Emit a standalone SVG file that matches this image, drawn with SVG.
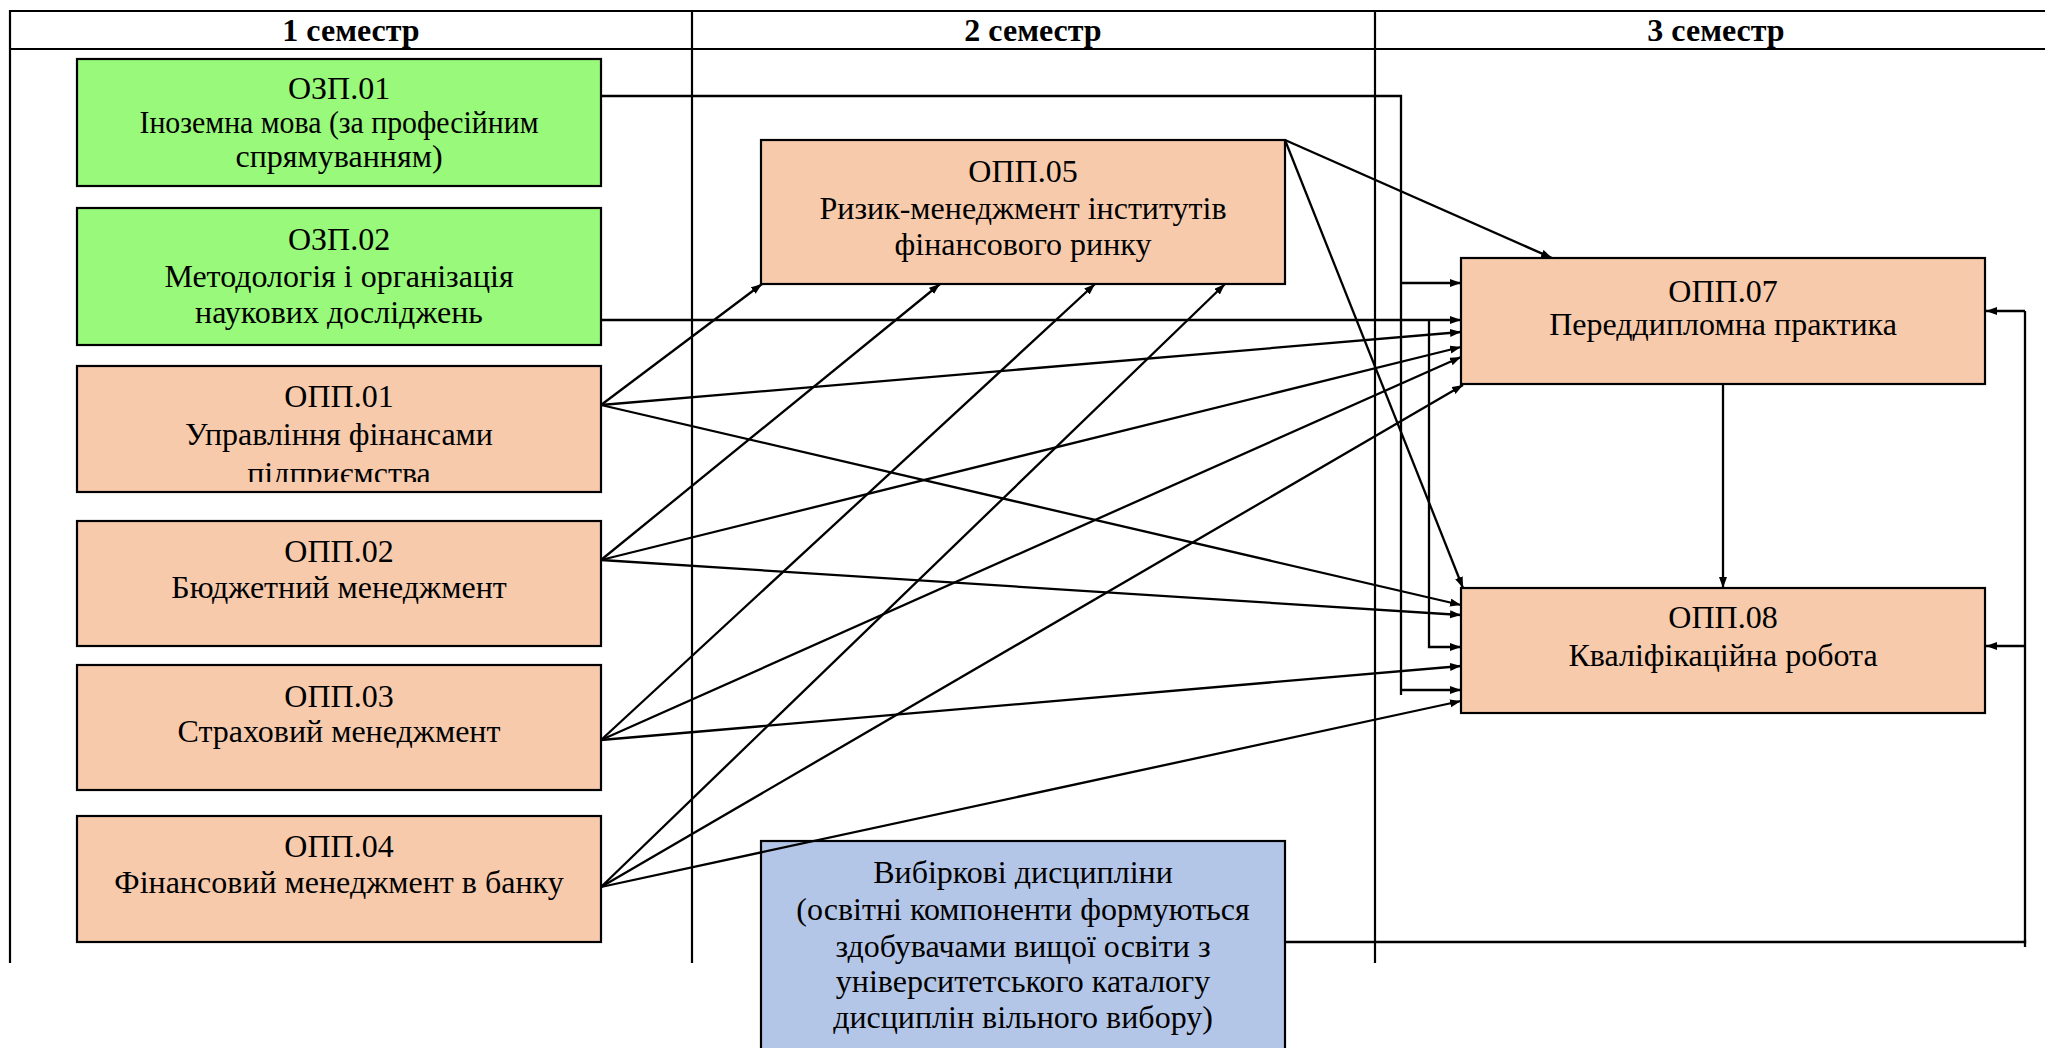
<svg xmlns="http://www.w3.org/2000/svg" width="2045" height="1048" viewBox="0 0 2045 1048">
<style>
.grid{stroke:#000;stroke-width:2.2;fill:none}
.hdr{font-family:"Liberation Serif","Times New Roman",serif;font-size:32px;font-weight:bold;text-anchor:middle;fill:#000}
.t{font-family:"Liberation Serif","Times New Roman",serif;font-size:32px;text-anchor:middle;fill:#000}
.box{stroke:#000;stroke-width:2.2}
.g{fill:#98F97A}
.p{fill:#F7CAAC}
.b{fill:#B4C6E7}
.c{stroke:#000;stroke-width:2.3;fill:none}
.a{marker-end:url(#arr)}
</style>
<defs>
<marker id="arr" markerUnits="userSpaceOnUse" markerWidth="12" markerHeight="10" refX="11" refY="4" orient="auto">
<path d="M0,0 L11,4 L0,8 z" fill="#000"/>
</marker>
<clipPath id="clip01"><rect x="77" y="366" width="524" height="116"/></clipPath>
</defs>
<rect width="2045" height="1048" fill="#fff"/>
<g id="table">
<line class="grid" x1="10" y1="11" x2="2045" y2="11"/>
<line class="grid" x1="10" y1="49" x2="2045" y2="49"/>
<line class="grid" x1="10" y1="10" x2="10" y2="963"/>
<line class="grid" x1="692" y1="10" x2="692" y2="963"/>
<line class="grid" x1="1375" y1="10" x2="1375" y2="963"/>
<text class="hdr" x="351" y="41">1 семестр</text>
<text class="hdr" x="1033" y="41">2 семестр</text>
<text class="hdr" x="1716" y="41">3 семестр</text>
</g>
<g id="ozp01">
<rect class="box g" x="77" y="59" width="524" height="127"/>
<text class="t" x="339" y="99">ОЗП.01</text>
<text class="t" x="339" y="133" textLength="399" lengthAdjust="spacingAndGlyphs">Іноземна мова (за професійним</text>
<text class="t" x="339" y="167">спрямуванням)</text>
</g>
<g id="ozp02">
<rect class="box g" x="77" y="208" width="524" height="137"/>
<text class="t" x="339" y="250">ОЗП.02</text>
<text class="t" x="339" y="287">Методологія і організація</text>
<text class="t" x="339" y="323">наукових досліджень</text>
</g>
<g id="opp01">
<rect class="box p" x="77" y="366" width="524" height="126"/>
<text class="t" x="339" y="407">ОПП.01</text>
<text class="t" x="339" y="445">Управління фінансами</text>
<text class="t" x="339" y="484" clip-path="url(#clip01)">підприємства</text>
</g>
<g id="opp02">
<rect class="box p" x="77" y="521" width="524" height="125"/>
<text class="t" x="339" y="562">ОПП.02</text>
<text class="t" x="339" y="598">Бюджетний менеджмент</text>
</g>
<g id="opp03">
<rect class="box p" x="77" y="665" width="524" height="125"/>
<text class="t" x="339" y="707">ОПП.03</text>
<text class="t" x="339" y="742">Страховий менеджмент</text>
</g>
<g id="opp04">
<rect class="box p" x="77" y="816" width="524" height="126"/>
<text class="t" x="339" y="857">ОПП.04</text>
<text class="t" x="339" y="893">Фінансовий менеджмент в банку</text>
</g>
<g id="opp05">
<rect class="box p" x="761" y="140" width="524" height="144"/>
<text class="t" x="1023" y="182">ОПП.05</text>
<text class="t" x="1023" y="219">Ризик-менеджмент інститутів</text>
<text class="t" x="1023" y="255">фінансового ринку</text>
</g>
<g id="opp07">
<rect class="box p" x="1461" y="258" width="524" height="126"/>
<text class="t" x="1723" y="302">ОПП.07</text>
<text class="t" x="1723" y="335">Переддипломна практика</text>
</g>
<g id="opp08">
<rect class="box p" x="1461" y="588" width="524" height="125"/>
<text class="t" x="1723" y="628">ОПП.08</text>
<text class="t" x="1723" y="666">Кваліфікаційна робота</text>
</g>
<g id="elective">
<rect class="box b" x="761" y="841" width="524" height="220"/>
<text class="t" x="1023" y="883">Вибіркові дисципліни</text>
<text class="t" x="1023" y="920">(освітні компоненти формуються</text>
<text class="t" x="1023" y="957">здобувачами вищої освіти з</text>
<text class="t" x="1023" y="992">університетського каталогу</text>
<text class="t" x="1023" y="1028">дисциплін вільного вибору)</text>
</g>
<g id="connectors">
<polyline class="c" points="601,96 1401,96 1401,695"/>
<line class="c a" x1="1401" y1="283" x2="1461" y2="283"/>
<line class="c a" x1="1401" y1="690" x2="1461" y2="690"/>
<line class="c a" x1="601" y1="320" x2="1461" y2="320"/>
<polyline class="c a" points="1429,320 1429,647 1461,647"/>
<line class="c a" x1="601" y1="405" x2="762" y2="284"/>
<line class="c a" x1="601" y1="405" x2="1461" y2="332"/>
<line class="c a" x1="601" y1="405" x2="1461" y2="605"/>
<line class="c a" x1="601" y1="560" x2="940" y2="284"/>
<line class="c a" x1="601" y1="560" x2="1461" y2="347"/>
<line class="c a" x1="601" y1="560" x2="1461" y2="615"/>
<line class="c a" x1="601" y1="740" x2="1095" y2="284"/>
<line class="c a" x1="601" y1="740" x2="1461" y2="357"/>
<line class="c a" x1="601" y1="740" x2="1461" y2="666"/>
<line class="c a" x1="601" y1="887" x2="1225" y2="284"/>
<line class="c a" x1="601" y1="887" x2="1463" y2="385"/>
<line class="c a" x1="601" y1="887" x2="1461" y2="701"/>
<line class="c a" x1="1285" y1="140" x2="1552" y2="258"/>
<line class="c a" x1="1285" y1="140" x2="1463" y2="588"/>
<line class="c a" x1="1723" y1="384" x2="1723" y2="588"/>
<polyline class="c" points="1285,942 2025,942 2025,311"/>
<line class="c" x1="2025" y1="940" x2="2025" y2="947"/>
<line class="c a" x1="2025" y1="311" x2="1986" y2="311"/>
<line class="c a" x1="2025" y1="646" x2="1986" y2="646"/>
</g>
</svg>
